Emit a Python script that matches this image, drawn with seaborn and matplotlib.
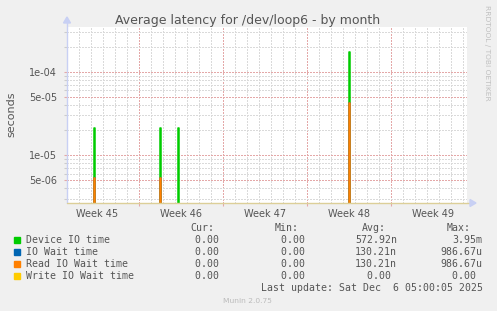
import numpy as np
import pandas as pd
import matplotlib
matplotlib.use("Agg")
import matplotlib.pyplot as plt
import matplotlib.ticker as mticker
from matplotlib.lines import Line2D
from matplotlib.patches import Polygon
from matplotlib.transforms import blended_transform_factory
import seaborn as sns

# ---------------- data ----------------
series_names = ["Device IO time", "IO Wait time", "Read IO Wait time", "Write IO Wait time"]
series_colors = ["#00cc00", "#0066b3", "#ff8000", "#ffcc00"]
# spike positions (days since left edge of the graph, 2-hour bins)
spike_days = [2.25, 7.75, 9.25, 23.5]
device_io = [2.09e-5, 2.09e-5, 2.09e-5, 1.71e-4]
io_wait = [5.34e-6, 5.34e-6, 0.0, 4.18e-5]
read_wait = [5.34e-6, 5.34e-6, 0.0, 4.18e-5]
write_wait = [0.0, 0.0, 0.0, 0.0]

week_labels = ["Week 45", "Week 46", "Week 47", "Week 48", "Week 49"]
week_starts = [6, 13, 20, 27]          # day index of week boundaries (Mondays)
y_major = [5e-6, 1e-5, 5e-5, 1e-4]
y_major_labels = ["5e-06", "1e-05", "5e-05", "1e-04"]

cur_vals = ["0.00 ", "0.00 ", "0.00 ", "0.00 "]
min_vals = ["0.00 ", "0.00 ", "0.00 ", "0.00 "]
avg_vals = ["572.92n", "130.21n", "130.21n", "0.00 "]
max_vals = ["3.95m", "986.67u", "986.67u", "0.00 "]

# ---------------- build series ----------------
bins_per_day = 12
span_days = 400 / 12
day_grid = np.arange(0, 401) / bins_per_day
frames = []
for name, vals in zip(series_names, [device_io, io_wait, read_wait, write_wait]):
    v = np.zeros_like(day_grid)
    for d, val in zip(spike_days, vals):
        v[int(round(d * bins_per_day))] = val
    frames.append(pd.DataFrame({"day": day_grid, "value": v, "series": name}))
df = pd.concat(frames, ignore_index=True)

# ---------------- figure ----------------
W, H = 497, 311
sns.set_theme(style="white")
plt.rcParams["font.family"] = ["DejaVu Sans"]
fig = plt.figure(figsize=(W / 100, H / 100), dpi=100, facecolor="#f0f0f0")
L, T, R, B = 67, 27, 467, 203
ax = fig.add_axes([L / W, 1 - B / H, (R - L) / W, (B - T) / H])
ax.set_facecolor("white")

sns.lineplot(data=df, x="day", y="value", hue="series", hue_order=series_names,
             palette=series_colors, estimator=None, drawstyle="steps-post",
             linewidth=1.1, legend=False, ax=ax, zorder=5)

ax.set_yscale("log", nonpositive="clip")
ax.set_xlim(0, span_days)
ax.set_ylim(10 ** -5.576, 10 ** -3.463)

# y ticks and grid
ax.yaxis.set_major_locator(mticker.FixedLocator(y_major))
ax.yaxis.set_major_formatter(mticker.FixedFormatter(y_major_labels))
ax.yaxis.set_minor_locator(mticker.LogLocator(base=10, subs=(2, 3, 4, 6, 7, 8, 9), numticks=20))
ax.yaxis.set_minor_formatter(mticker.NullFormatter())
# x ticks and grid
ax.xaxis.set_major_locator(mticker.FixedLocator(week_starts))
ax.xaxis.set_major_formatter(mticker.NullFormatter())
ax.xaxis.set_minor_locator(mticker.MultipleLocator(1))

red = "#e4a8a8"
gray = "#dadada"
ax.grid(which="major", color=red, linestyle=(0, (1, 1)), linewidth=1.0, antialiased=False)
ax.grid(which="minor", color=gray, linestyle=(0, (1, 1)), linewidth=1.0, antialiased=False)
ax.set_axisbelow(True)

ax.tick_params(axis="y", which="major", length=2, width=0.8, color=red,
               labelsize=7, labelcolor="#555555", pad=5, left=True)
ax.tick_params(axis="y", which="minor", length=2, width=0.8, color="#cccccc", left=True)
ax.tick_params(axis="x", which="major", length=2, width=0.8, color=red, bottom=True)
ax.tick_params(axis="x", which="minor", length=0)

for s in ax.spines.values():
    s.set_visible(False)
ax.set_xlabel("")
ax.set_ylabel("")

# axis lines with arrows (decoration)
def fx(x):
    return x / W

def fy(y):
    return 1 - y / H

fig.add_artist(Line2D([fx(L), fx(L)], [fy(B), fy(21)], color="#c8d0f4", lw=1.0,
                      transform=fig.transFigure, zorder=10))
fig.add_artist(Polygon([[fx(L - 3.5), fy(23)], [fx(L + 3.5), fy(23)], [fx(L), fy(17)]],
                       closed=True, color="#c8d0f4", transform=fig.transFigure, zorder=10))
fig.add_artist(Line2D([fx(L), fx(471)], [fy(B), fy(B)], color="#dccf98", lw=1.0,
                      transform=fig.transFigure, zorder=10))
fig.add_artist(Polygon([[fx(470), fy(B - 3.5)], [fx(470), fy(B + 3.5)], [fx(476), fy(B)]],
                       closed=True, color="#c8d0f4", transform=fig.transFigure, zorder=10))

# week labels
bt = blended_transform_factory(ax.transData, fig.transFigure)
for i, lab in enumerate(week_labels):
    ax.text(week_starts[0] - 3.5 + 7 * i, fy(216.7), lab, transform=bt, ha="center",
            va="baseline", fontsize=7, color="#555555")

# title and side texts
fig.text(fx(247.5), fy(24), "Average latency for /dev/loop6 - by month", ha="center",
         va="baseline", fontsize=9, color="#555555")
fig.text(fx(11), fy(114.5), "seconds", rotation=90, ha="center", va="center",
         fontsize=8, color="#555555")
fig.text(fx(487), fy(5), "RRDTOOL / TOBI OETIKER", rotation=270, ha="center", va="top",
         fontsize=5.4, color="#c0c0c0")
fig.text(fx(247.7), fy(302.7), "Munin 2.0.75", ha="center", va="baseline",
         fontsize=5.4, color="#bbbbbb")

# legend block
mono = "DejaVu Sans Mono"
fs = 7.15
CW = fs * 100 / 72 * 0.602
tc = "#555555"

def mtext(x_left, y_base, s):
    fig.text(fx(x_left), fy(y_base), s, ha="left", va="baseline", family=mono,
             fontsize=fs, color=tc)

def rtext(x_right, y_base, s):
    mtext(x_right - len(s) * CW, y_base, s)

rtext(213.8, 231, "Cur:")
rtext(299.0, 231, "Min:")
rtext(385.5, 231, "Avg:")
rtext(470.5, 231, "Max:")

rows_y = [239.7, 251.7, 263.7, 275.7]
for i, name in enumerate(series_names):
    yc = rows_y[i]
    fig.add_artist(plt.Rectangle((fx(14), fy(yc + 3)), 6 / W, 6 / H, color=series_colors[i],
                                 transform=fig.transFigure))
    mtext(26, yc + 3.2, name)
    rtext(219.3 + CW, yc + 3.2, cur_vals[i])
    rtext(305.0 + CW, yc + 3.2, min_vals[i])
    rtext(396.7, yc + 3.2, avg_vals[i])
    rtext(482.3, yc + 3.2, max_vals[i])

rtext(482.3, 290.7, "Last update: Sat Dec  6 05:00:05 2025")

fig.savefig("out.png", dpi=100, facecolor=fig.get_facecolor())
